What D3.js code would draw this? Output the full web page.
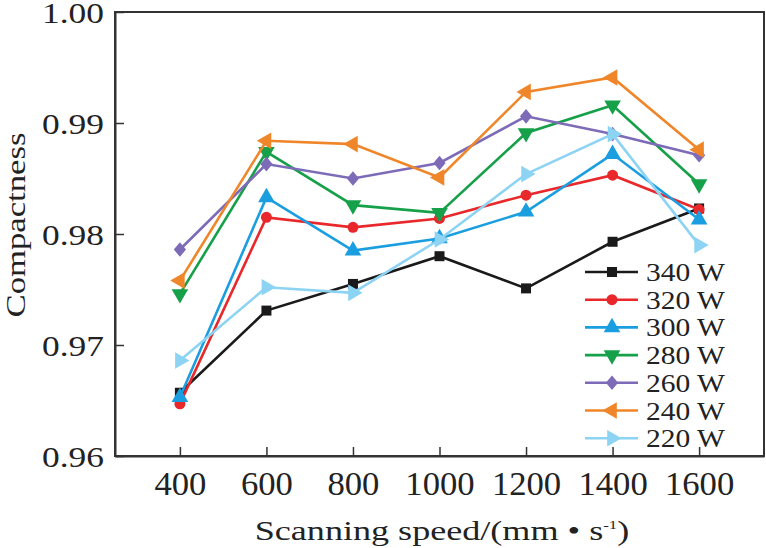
<!DOCTYPE html>
<html>
<head>
<meta charset="utf-8">
<script src="https://cdn.jsdelivr.net/npm/d3@7"></script>
<style>
  body { margin: 0; background: #fff; }
  svg { display: block; font-family: "Liberation Serif", "Times New Roman", serif; }
</style>
</head>
<body>
<svg id="chart" width="766" height="548"></svg>
<script>
// scanning speed (mm/s)
const speeds = [400, 600, 800, 1000, 1200, 1400, 1600];
const xTicks = [400, 600, 800, 1000, 1200, 1400, 1600];
const yTicks = [0.96, 0.97, 0.98, 0.99, 1.00];

// compactness per laser power
const powers = ['340 W', '320 W', '300 W', '280 W', '260 W', '240 W', '220 W'];
const p340 = [0.9657, 0.9731, 0.9755, 0.9780, 0.9751, 0.9793, 0.9823];
const p320 = [0.9647, 0.9815, 0.9806, 0.9814, 0.9835, 0.9853, 0.9822];
const p300 = [0.9653, 0.9833, 0.9785, 0.9796, 0.9820, 0.9872, 0.9813];
const p280 = [0.9746, 0.9874, 0.9826, 0.9819, 0.9891, 0.9916, 0.9845];
const p260 = [0.9786, 0.9863, 0.9850, 0.9864, 0.9906, 0.9890, 0.9871];
const p240 = [0.9758, 0.9884, 0.9881, 0.9851, 0.9928, 0.9941, 0.9876];
const p220 = [0.9686, 0.9752, 0.9747, 0.9795, 0.9854, 0.9890, 0.9790];
const seriesValues = [p340, p320, p300, p280, p260, p240, p220];

const colors = ['#1a1a1a', '#e8282b', '#1a9ee0', '#17a04a', '#7d6bb8', '#f0862a', '#8dd3f3'];
// marker shape + rotation (+ vertical scale) for each series
const markers = [
  { type: d3.symbolSquare, size: 100, rot: 0, sy: 1 },
  { type: d3.symbolCircle, size: 95, rot: 0, sy: 1 },
  { type: d3.symbolTriangle, size: 120, rot: 0, sy: 1 },
  { type: d3.symbolTriangle, size: 120, rot: 180, sy: 1 },
  { type: d3.symbolDiamond2, size: 95, rot: 0, sy: 1.2 },
  { type: d3.symbolTriangle, size: 120, rot: -90, sy: 1 },
  { type: d3.symbolTriangle, size: 120, rot: 90, sy: 1 }
];

const svg = d3.select('#chart');
const plot = { left: 115, right: 764, top: 12, bottom: 456 };
const stretch = 1.18; // the figure's text is a bit wide
const serif = '"Liberation Serif", "Times New Roman", serif';

const x = d3.scaleLinear().domain([250, 1750]).range([plot.left, plot.right]);
const y = d3.scaleLinear().domain([0.96, 1.00]).range([plot.bottom, plot.top]);

// frame
svg.append('rect')
  .attr('x', plot.left).attr('y', plot.top)
  .attr('width', plot.right - plot.left).attr('height', plot.bottom - plot.top)
  .attr('fill', 'none').attr('stroke', '#333').attr('stroke-width', 2);

// x axis, ticks pointing in
const xAxis = svg.append('g')
  .attr('transform', `translate(0,${plot.bottom})`)
  .call(d3.axisBottom(x).tickValues(xTicks).tickSizeInner(-9).tickSizeOuter(0).tickFormat(d3.format('d')))
  .attr('font-family', serif);
xAxis.select('.domain').attr('stroke', '#333').attr('stroke-width', 2);
xAxis.selectAll('.tick line').attr('stroke', '#333').attr('stroke-width', 1.5);
xAxis.selectAll('.tick text')
  .attr('y', 39).attr('dy', null)
  .attr('transform', 'scale(1.05,1)')
  .attr('fill', '#222')
  .style('font-size', '33px');

// y axis
const yAxis = svg.append('g')
  .attr('transform', `translate(${plot.left},0)`)
  .call(d3.axisLeft(y).tickValues(yTicks).tickSizeInner(-9).tickSizeOuter(0).tickFormat(d3.format('.2f')))
  .attr('font-family', serif);
yAxis.select('.domain').attr('stroke', '#333').attr('stroke-width', 2);
yAxis.selectAll('.tick line').attr('stroke', '#333').attr('stroke-width', 1.5);
yAxis.selectAll('.tick text')
  .attr('x', -11 / stretch)
  .attr('dy', '0.36em')
  .attr('transform', `scale(${stretch},1)`)
  .attr('fill', '#222')
  .style('font-size', '30px');

// axis titles
svg.append('text')
  .attr('transform', 'translate(442,540) scale(1.29,1)')
  .attr('text-anchor', 'middle')
  .attr('fill', '#222')
  .style('font-size', '28px')
  .call(t => {
    t.append('tspan').text('Scanning speed/(mm • s');
    t.append('tspan').attr('dy', -11).style('font-size', '13px').text('-1');
    t.append('tspan').attr('dy', 11).text(')');
  });

svg.append('text')
  .attr('transform', 'translate(25,225) rotate(-90)')
  .attr('text-anchor', 'middle')
  .attr('textLength', 185)
  .attr('lengthAdjust', 'spacingAndGlyphs')
  .attr('fill', '#222')
  .style('font-size', '28px')
  .text('Compactness');

const line = d3.line().x((d, i) => x(speeds[i])).y(d => y(d));

const symbolPath = m => d3.symbol().type(m.type).size(m.size)();
const symbolTf = (m, px, py) => `translate(${px},${py}) rotate(${m.rot}) scale(1,${m.sy})`;

seriesValues.forEach((vals, k) => {
  const g = svg.append('g');
  g.append('path')
    .datum(vals)
    .attr('d', line)
    .attr('fill', 'none')
    .attr('stroke', colors[k])
    .attr('stroke-width', 2.6)
    .attr('stroke-linejoin', 'miter');
  g.selectAll('path.mk')
    .data(vals)
    .enter()
    .append('path')
    .attr('class', 'mk')
    .attr('d', symbolPath(markers[k]))
    .attr('transform', (d, i) => symbolTf(markers[k], x(speeds[i]), y(d)))
    .attr('fill', colors[k]);
});

// legend
const legend = svg.append('g');
powers.forEach((name, k) => {
  const ly = 272 + k * 27.7;
  legend.append('line')
    .attr('x1', 585).attr('x2', 638)
    .attr('y1', ly).attr('y2', ly)
    .attr('stroke', colors[k]).attr('stroke-width', 2.6);
  legend.append('path')
    .attr('d', symbolPath(markers[k]))
    .attr('transform', symbolTf(markers[k], 612, ly))
    .attr('fill', colors[k]);
  legend.append('text')
    .attr('transform', `translate(646,${ly + 9}) scale(${stretch},1)`)
    .attr('fill', '#222')
    .style('font-size', '25px')
    .text(name);
});
</script>
</body>
</html>
